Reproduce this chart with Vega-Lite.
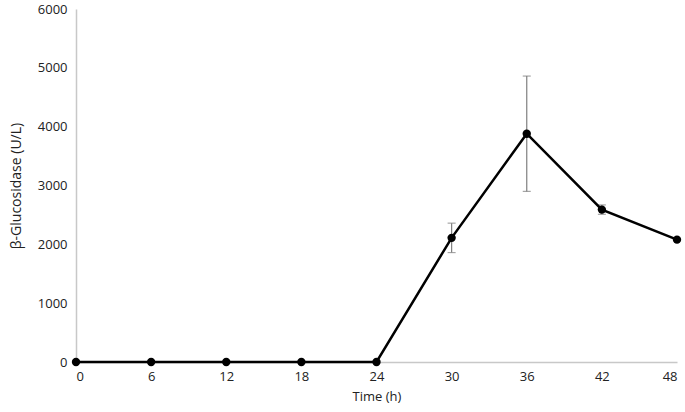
{
  "$schema": "https://vega.github.io/schema/vega-lite/v6.json",
  "autosize": {"type": "none"},
  "width": 601,
  "height": 353,
  "padding": {"left": 76, "top": 9, "right": 8, "bottom": 50},
  "background": "white",
  "config": {
    "view": {"stroke": null},
    "axis": {"labelFont": "Open Sans", "titleFont": "Open Sans", "labelFontSize": 13, "titleFontSize": 13, "titleFontWeight": "normal", "labelColor": "#222", "titleColor": "#222", "grid": false, "ticks": false, "domainColor": "#c8c8c8", "domainWidth": 1.5}
  },
  "data": {"values": [
    {"t": 0, "v": 0, "lo": null, "hi": null},
    {"t": 6, "v": 0, "lo": null, "hi": null},
    {"t": 12, "v": 0, "lo": null, "hi": null},
    {"t": 18, "v": 0, "lo": null, "hi": null},
    {"t": 24, "v": 0, "lo": null, "hi": null},
    {"t": 30, "v": 2110, "lo": 1860, "hi": 2360},
    {"t": 36, "v": 3880, "lo": 2900, "hi": 4860},
    {"t": 42, "v": 2590, "lo": 2510, "hi": 2670},
    {"t": 48, "v": 2080, "lo": null, "hi": null}
  ]},
  "encoding": {
    "x": {"field": "t", "type": "quantitative", "scale": {"domain": [0, 48], "nice": false}, "axis": {"values": [0, 6, 12, 18, 24, 30, 36, 42, 48], "format": "d", "title": "Time (h)", "labelPadding": 8, "titlePadding": 7}}
  },
  "layer": [
    {
      "transform": [{"filter": "datum.lo != null"}],
      "mark": {"type": "rule", "color": "#7f7f7f", "strokeWidth": 1.2},
      "encoding": {"y": {"field": "lo", "type": "quantitative"}, "y2": {"field": "hi"}}
    },
    {
      "transform": [{"filter": "datum.lo != null"}],
      "mark": {"type": "tick", "orient": "horizontal", "color": "#7f7f7f", "size": 8, "thickness": 1.2},
      "encoding": {"y": {"field": "lo", "type": "quantitative"}}
    },
    {
      "transform": [{"filter": "datum.lo != null"}],
      "mark": {"type": "tick", "orient": "horizontal", "color": "#7f7f7f", "size": 8, "thickness": 1.2},
      "encoding": {"y": {"field": "hi", "type": "quantitative"}}
    },
    {
      "mark": {"type": "line", "color": "black", "strokeWidth": 2.5, "point": {"filled": true, "color": "black", "size": 70}},
      "encoding": {
        "y": {"field": "v", "type": "quantitative", "scale": {"domain": [0, 6000], "nice": false}, "axis": {"values": [0, 1000, 2000, 3000, 4000, 5000, 6000], "format": "d", "title": "β-Glucosidase (U/L)", "titleFontSize": 14, "labelPadding": 9, "titlePadding": 14}}
      }
    }
  ]
}
